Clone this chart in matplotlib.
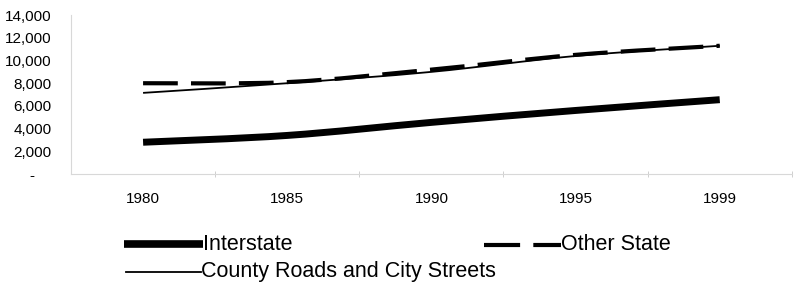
import matplotlib
matplotlib.use("Agg")
import matplotlib.pyplot as plt
from matplotlib.lines import Line2D
from matplotlib.path import Path
from matplotlib.patches import PathPatch
from matplotlib.ticker import FuncFormatter

plt.rcParams['font.family'] = ['Liberation Sans', 'DejaVu Sans']
plt.rcParams['lines.scale_dashes'] = False

# Data, one category per year label
years = ['1980', '1985', '1990', '1995', '1999']
interstate = [2800, 3400, 4550, 5600, 6550]
other_state = [8000, 8100, 9200, 10500, 11300]
county = [7150, 8000, 9000, 10400, 11300]
y_ticks = [0, 2000, 4000, 6000, 8000, 10000, 12000, 14000]


def fmt(v, pos):
    if v == 0:
        return '-    '
    return '{:,.0f}'.format(v)


# smoothed line through the points, like the spreadsheet's "smoothed line" option
def smooth_path(ys):
    pts = list(zip(range(len(ys)), ys))
    verts = [pts[0]]
    codes = [Path.MOVETO]
    for i in range(len(pts) - 1):
        p0 = pts[max(i - 1, 0)]
        p1 = pts[i]
        p2 = pts[i + 1]
        p3 = pts[min(i + 2, len(pts) - 1)]
        c1 = (p1[0] + (p2[0] - p0[0]) / 6.0, p1[1] + (p2[1] - p0[1]) / 6.0)
        c2 = (p2[0] - (p3[0] - p1[0]) / 6.0, p2[1] - (p3[1] - p1[1]) / 6.0)
        verts += [c1, c2, p2]
        codes += [Path.CURVE4] * 3
    return Path(verts, codes)


fig = plt.figure(figsize=(7.95, 2.91), dpi=100)
ax = fig.add_axes([0.0893, 0.402, 0.9067, 0.546])

ax.add_patch(PathPatch(smooth_path(interstate), fill=False, edgecolor='black', lw=5,
                       capstyle='butt'))
ax.add_patch(PathPatch(smooth_path(other_state), fill=False, edgecolor='black', lw=3,
                       linestyle=(0, (25, 9.5))))
ax.add_patch(PathPatch(smooth_path(county), fill=False, edgecolor='black', lw=1.3))

ax.set_xlim(-0.5, len(years) - 0.5)
ax.set_ylim(0, 14000)
ax.set_yticks(y_ticks)
ax.yaxis.set_major_formatter(FuncFormatter(fmt))
ax.tick_params(axis='y', length=0, pad=14, labelsize=11)

xs = range(len(years))
ax.set_xticks(list(xs))
ax.set_xticklabels(years)
ax.set_xticks([i + 0.5 for i in xs], minor=True)
ax.tick_params(axis='x', which='major', length=0, pad=13, labelsize=11)
ax.tick_params(axis='x', which='minor', length=4, direction='inout', color='#c8c8c8')

for s in ['top', 'right']:
    ax.spines[s].set_visible(False)
for s in ['left', 'bottom']:
    ax.spines[s].set_color('#d8d8d8')
    ax.spines[s].set_linewidth(0.8)

# legend, laid out like the original
W, H = 795.0, 291.0
def fx(px):
    return px / W
def fy(py):
    return 1 - py / H

fig.add_artist(Line2D([fx(124), fx(203)], [fy(244), fy(244)], color='black', lw=5.5,
                      solid_capstyle='butt'))
fig.text(fx(203), fy(245), 'Interstate', fontsize=15.5, va='center', ha='left')

fig.add_artist(Line2D([fx(484), fx(561)], [fy(245), fy(245)], color='black', lw=3,
                      dashes=(26, 9.5)))
fig.text(fx(561), fy(245), 'Other State', fontsize=15.5, va='center', ha='left')

fig.add_artist(Line2D([fx(126), fx(201)], [fy(272), fy(272)], color='black', lw=1.3))
fig.text(fx(201), fy(272), 'County Roads and City Streets', fontsize=15.5,
         va='center', ha='left')

fig.savefig('out.png', dpi=100)
